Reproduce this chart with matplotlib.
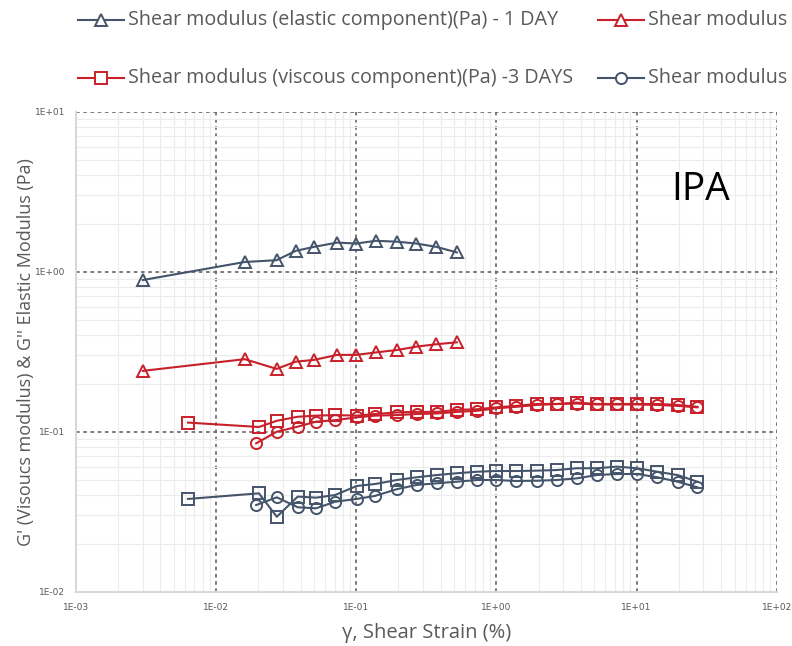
import numpy as np
import matplotlib
matplotlib.use("Agg")
import matplotlib.pyplot as plt
import matplotlib.lines as mlines
from matplotlib.ticker import LogLocator, FuncFormatter, NullFormatter

# shear strain (%) for each sweep
strain_tri = [0.003, 0.016, 0.027, 0.037, 0.050, 0.073, 0.100, 0.138, 0.195, 0.268, 0.372, 0.522]
strain_sq = [0.0063, 0.0202, 0.0271, 0.0382, 0.0516, 0.0706, 0.1008, 0.136, 0.1946, 0.270,
             0.376, 0.522, 0.724, 0.996, 1.38, 1.94, 2.70, 3.75, 5.21, 7.23, 10.1, 14.1, 19.6, 27.2]
strain_ci = [0.0193, 0.0271, 0.0382, 0.0516, 0.0706, 0.1008, 0.136, 0.1946, 0.270,
             0.376, 0.522, 0.724, 0.996, 1.38, 1.94, 2.70, 3.75, 5.21, 7.23, 10.1, 14.1, 19.6, 27.2]

# moduli (Pa)
g_elastic_1d = [0.887, 1.15, 1.18, 1.35, 1.43, 1.52, 1.50, 1.56, 1.54, 1.50, 1.43, 1.32]
g_viscous_1d = [0.240, 0.284, 0.247, 0.274, 0.281, 0.302, 0.302, 0.313, 0.324, 0.340, 0.352, 0.362]
g_viscous_3d = [0.114, 0.107, 0.117, 0.124, 0.126, 0.127, 0.126, 0.129, 0.132, 0.133, 0.133, 0.137,
                0.138, 0.142, 0.145, 0.149, 0.149, 0.152, 0.149, 0.149, 0.149, 0.149, 0.147, 0.143]
g_red_circ = [0.0846, 0.100, 0.1075, 0.1155, 0.118, 0.123, 0.126, 0.127, 0.129, 0.130, 0.133,
              0.135, 0.140, 0.143, 0.147, 0.149, 0.150, 0.148, 0.148, 0.148, 0.147, 0.145, 0.142]
g_gray_sq = [0.0380, 0.0412, 0.0294, 0.0393, 0.0387, 0.0402, 0.0458, 0.0471, 0.0499, 0.0519, 0.0536,
             0.0550, 0.0562, 0.0568, 0.0568, 0.0571, 0.0576, 0.0591, 0.0591, 0.0605, 0.0591, 0.0562,
             0.0536, 0.0487]
g_gray_circ = [0.0348, 0.0389, 0.0337, 0.0332, 0.0365, 0.0380, 0.0397, 0.0437, 0.0465, 0.0476, 0.0487,
               0.0499, 0.0499, 0.0492, 0.0494, 0.0499, 0.0511, 0.0536, 0.0544, 0.0544, 0.0519, 0.0487,
               0.0449]

legend_labels = ["Shear modulus (elastic component)(Pa) - 1 DAY", "Shear modulus",
                 "Shear modulus (viscous component)(Pa) -3 DAYS", "Shear modulus"]

GRAY = "#44546A"
RED = "#C8202A"
TXT = "#595959"

fig = plt.figure(figsize=(7.92, 6.46), dpi=100)
W, H = 792, 646
ax = fig.add_axes([76 / W, 1 - 591.7 / H, 700.7 / W, 480 / H])

ax.set_xscale("log")
ax.set_yscale("log")
ax.set_xlim(1e-3, 1e2)
ax.set_ylim(1e-2, 1e1)

sty = dict(lw=1.5, ms=8, mew=1.4, mfc="none", zorder=3)
ax.plot(strain_tri, g_elastic_1d, marker="^", color=GRAY, **sty)
ax.plot(strain_tri, g_viscous_1d, marker="^", color=RED, **sty)
ax.plot(strain_ci, g_red_circ, marker="o", color=RED, **sty)
ax.plot(strain_sq, g_viscous_3d, marker="s", color=RED, **sty)
ax.plot(strain_ci, g_gray_circ, marker="o", color=GRAY, **sty)
ax.plot(strain_sq, g_gray_sq, marker="s", color=GRAY, **sty)

# Excel-like grid: dotted dark majors, faint minors
for axis in (ax.xaxis, ax.yaxis):
    axis.set_major_locator(LogLocator(base=10, numticks=10))
    axis.set_minor_locator(LogLocator(base=10, subs=np.arange(2, 10), numticks=20))
    axis.set_minor_formatter(NullFormatter())
    axis.set_major_formatter(FuncFormatter(lambda v, p: "1E{:+03d}".format(int(round(np.log10(v))))))
ax.grid(which="major", color="#6f6f6f", ls=(0, (2, 2)), lw=1.3, zorder=1)
ax.grid(which="minor", color="#ececec", ls="-", lw=0.8, zorder=0)
ax.tick_params(which="both", length=0, labelsize=6.5, labelcolor=TXT, pad=8)
for s in ("top", "right"):
    ax.spines[s].set_visible(False)
for s in ("left", "bottom"):
    ax.spines[s].set_color("#d9d9d9")
    ax.spines[s].set_linewidth(1.5)
    ax.spines[s].set_zorder(2)

ax.set_xlabel("γ, Shear Strain (%)", fontsize=14.5, color=TXT, family="Open Sans", labelpad=8)
ax.set_ylabel("G' (Visoucs modulus) & G'' Elastic Modulus (Pa)", fontsize=13, color=TXT,
              family="Open Sans")
ax.yaxis.set_label_coords(-0.058, 0.5)
ax.text(0.892, 0.837, "IPA", transform=ax.transAxes, fontsize=28, family="Open Sans",
        color="black", ha="center", va="center")

# legend entries laid out in two rows
entries = [(78, 20, "^", GRAY), (598, 20, "^", RED), (78, 78, "s", RED), (598, 78, "o", GRAY)]
for (x0, y0, mk, c), lab in zip(entries, legend_labels):
    fy = 1 - y0 / H
    fig.add_artist(mlines.Line2D([x0 / W, (x0 + 46) / W], [fy, fy], color=c, lw=1.5,
                                 transform=fig.transFigure))
    fig.add_artist(mlines.Line2D([(x0 + 23) / W], [fy], marker=mk, ms=8, mew=1.4, mfc="white",
                                 color=c, transform=fig.transFigure))
    fig.text((x0 + 50) / W, fy, lab, fontsize=14.2, color=TXT, family="Open Sans",
             ha="left", va="center")

fig.savefig("out.png", dpi=100)
